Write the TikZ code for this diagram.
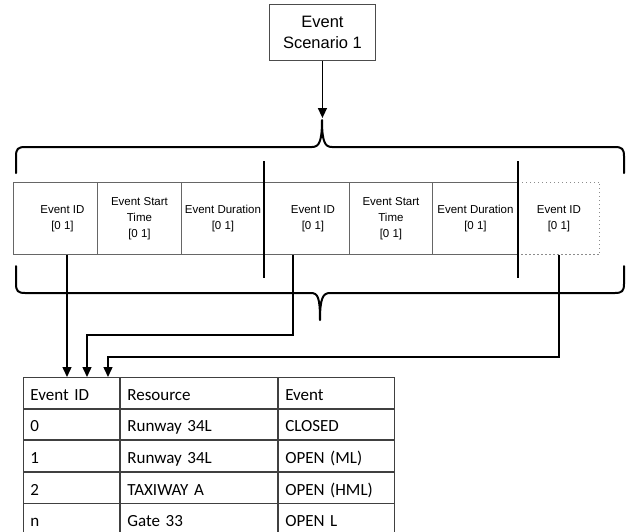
\documentclass[tikz,border=0pt]{standalone}
\usepackage{fontspec}
\setmainfont{Liberation Sans}
\newfontfamily\tabfont{Carlito}
\usetikzlibrary{arrows.meta,calc}
\begin{document}
\begin{tikzpicture}[x=1pt,y=-1pt,
  topbox/.style={draw=black!70,line width=0.9pt,minimum width=106pt,minimum height=56pt,inner sep=0pt,anchor=north west,align=center,font=\fontsize{16.5}{21}\selectfont},
  cellbox/.style={draw=black!60,line width=0.9pt,minimum width=#1,minimum height=72pt,inner sep=0pt,anchor=north west,align=center,font=\fontsize{11.5}{16}\selectfont},
  tcell/.style={draw=black!75,line width=0.9pt,text width=#1,inner xsep=7pt,inner ysep=0pt,minimum height=30.7pt,anchor=north west,align=left,text height=15pt,text depth=0pt,font=\tabfont\fontsize{17}{20}\selectfont},
  conn/.style={line width=1.4pt,-{Triangle[width=9pt,length=10pt]}},
  brace/.style={line width=2pt,line join=round,line cap=round},
  divider/.style={line width=2pt}
]
\useasboundingbox (0,0) rectangle (638,531);

% top box
\node[topbox] (ev) at (269,4) {Event\\Scenario 1};
\coordinate (tip) at (322,118);
\draw[conn] (ev.south) -- (ev.south |- tip);

% braces
\draw[brace] (16,173) -- (16,156) .. controls (16,149) and (18,147) .. (25,147) -- (312,147)
  .. controls (319,147) and (322,142) .. (322,120) .. controls (322,142) and (325,147) .. (332,147)
  -- (615,147) .. controls (622,147) and (624,149) .. (624,156) -- (624,173);
\draw[brace] (16,266) -- (16,284) .. controls (16,291) and (18,293) .. (25,293) -- (311,293)
  .. controls (318,293) and (320,298) .. (320,320) .. controls (320,298) and (323,293) .. (330,293)
  -- (615,293) .. controls (622,293) and (624,291) .. (624,284) -- (624,266);

% cells
\node[cellbox=84pt] (c1) at (13,182) {\hspace*{14pt}Event ID\\{\hspace*{14pt}[0 1]}};
\node[cellbox=84pt] (c2) at (97,182) {Event Start\\Time\\{[0 1]}};
\node[cellbox=83pt] (c3) at (181,182) {Event Duration\\{[0 1]}};
\node[cellbox=85pt] (c4) at (264,182) {\hspace*{12pt}Event ID\\{\hspace*{12pt}[0 1]}};
\node[cellbox=83pt] (c5) at (349,182) {Event Start\\Time\\{[0 1]}};
\node[cellbox=86pt] (c6) at (432,182) {Event Duration\\{[0 1]}};
\node[cellbox=81pt,draw=none] (c7) at (518,182) {Event ID\\{[0 1]}};
\draw[black!45,line width=1pt,dash pattern=on 1.3pt off 2.7pt] (c7.north west) -- (c7.north east) -- (c7.south east) -- (c7.south west);

% dividers
\draw[divider] (264,161) -- (264,278);
\draw[divider] (518,161) -- (518,278);

% table
\node[tcell=82pt] (h1) at (23,377) {Event ID};
\node[tcell=143pt] (h2) at (h1.north east) {Resource};
\node[tcell=102pt] (h3) at (h2.north east) {Event};
\node[tcell=82pt] (a1) at (h1.south west) {0};
\node[tcell=143pt] (a2) at (a1.north east) {Runway 34L};
\node[tcell=102pt] (a3) at (a2.north east) {CLOSED};
\node[tcell=82pt] (b1) at (a1.south west) {1};
\node[tcell=143pt] (b2) at (b1.north east) {Runway 34L};
\node[tcell=102pt] (b3) at (b2.north east) {OPEN (ML)};
\node[tcell=82pt] (d1) at (b1.south west) {2};
\node[tcell=143pt] (d2) at (d1.north east) {TAXIWAY A};
\node[tcell=102pt] (d3) at (d2.north east) {OPEN (HML)};
\node[tcell=82pt] (e1) at (d1.south west) {n};
\node[tcell=143pt] (e2) at (e1.north east) {Gate 33};
\node[tcell=102pt] (e3) at (e2.north east) {OPEN L};

% connectors
\coordinate (t1) at (67,377);
\coordinate (t2) at (87,377);
\coordinate (t3) at (108,377);
\coordinate (s2) at (293,335);
\coordinate (s3) at (559,357);
\draw[conn] (c1.south -| t1) -- (t1);
\draw[conn] (c4.south -| s2) -- (s2) -| (t2);
\draw[conn] (c7.south -| s3) -- (s3) -| (t3);
\end{tikzpicture}
\end{document}
